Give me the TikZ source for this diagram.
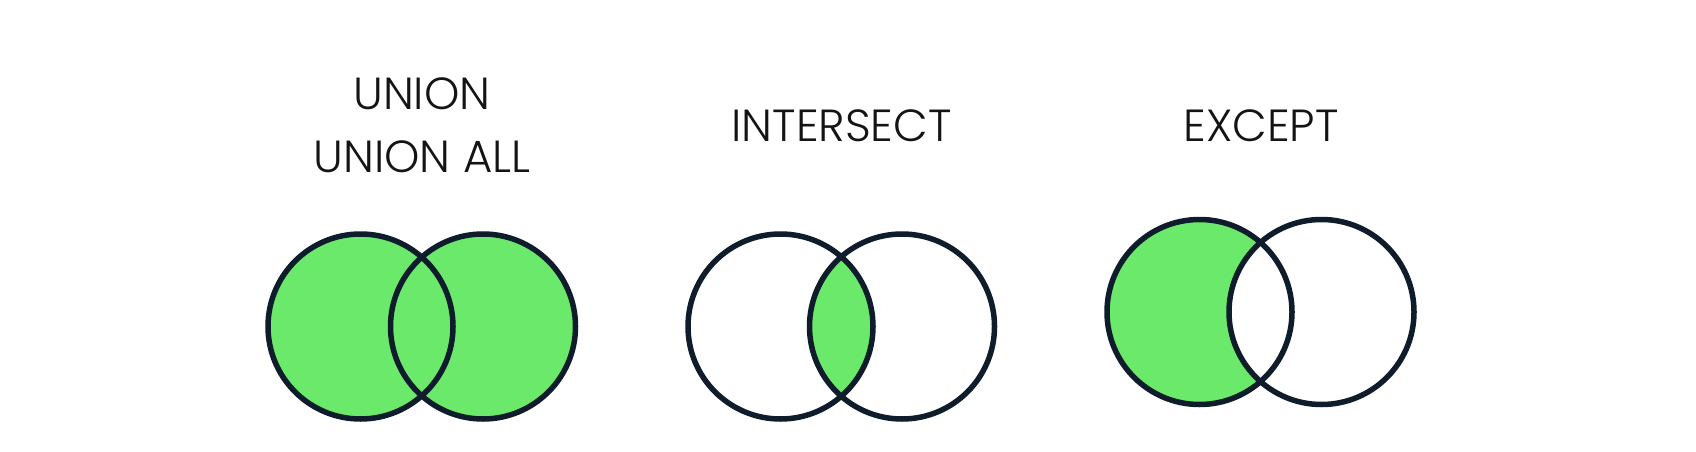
\documentclass[tikz,border=0pt]{standalone}
\usepackage{fontspec}
\setmainfont{Poppins Light}
\usetikzlibrary{positioning}
\definecolor{fillGreen}{HTML}{6BE96B}
\definecolor{borderDark}{HTML}{0E1C2B}
\definecolor{textMain}{HTML}{141414}
\newcommand{\vennR}{92.5}
\tikzset{
  vennline/.style={
    draw=borderDark, line width=5.5pt,
  },
  vennfill/.style={
    fill=fillGreen,
  },
  settitle/.style={
    font=\fontsize{45}{63}\selectfont, text=textMain, inner sep=0pt, anchor=base,
  },
}

\begin{document}
\begin{tikzpicture}[x=1pt, y=-1pt]
  \useasboundingbox (0,0) rectangle (1696,452);

  % === Circle centres ===
  \coordinate (unionA) at (360.5,326.5);
  \coordinate (unionB) at (483,326.5);
  \coordinate (interA) at (780.5,326.5);
  \coordinate (interB) at (902,326.5);
  \coordinate (exceptA) at (1199.5,312);
  \coordinate (exceptB) at (1321.5,312);

  % === Titles ===
  \node[settitle] (union) at (422,109) {UNION};
  \node[settitle] (unionall) at (422,172) {UNION ALL};
  \node[settitle] (intersect) at (841.5,141) {INTERSECT};
  \node[settitle] (except) at (1261,141) {EXCEPT};

  % === UNION: both sets ===
  \fill[vennfill] (unionA) circle[radius=\vennR] (unionB) circle[radius=\vennR];

  % === INTERSECT: common part only ===
  \begin{scope}
    \clip (interA) circle[radius=\vennR];
    \fill[vennfill] (interB) circle[radius=\vennR];
  \end{scope}

  % === EXCEPT: left set minus right set ===
  \fill[vennfill] (exceptA) circle[radius=\vennR];
  \begin{scope}
    \clip (exceptA) circle[radius=\vennR];
    \fill[white] (exceptB) circle[radius=\vennR];
  \end{scope}

  % === Outlines ===
  \foreach \c in {unionA, unionB, interA, interB, exceptA, exceptB}
    \draw[vennline] (\c) circle[radius=\vennR];

\end{tikzpicture}
\end{document}
